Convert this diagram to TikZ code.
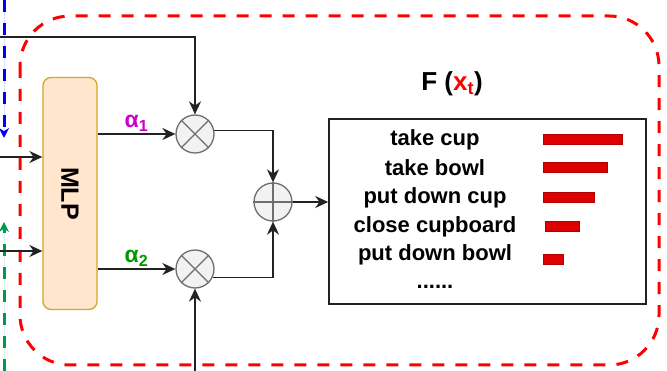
\documentclass[tikz,border=0pt]{standalone}
\usepackage{fontspec}
\setmainfont{Liberation Sans}
\usetikzlibrary{arrows.meta,positioning,calc}
\definecolor{ink}{HTML}{222222}
\definecolor{mlpfill}{HTML}{FFE6CC}
\definecolor{mlpdraw}{HTML}{D7A52B}
\definecolor{opfill}{HTML}{F2F2F2}
\definecolor{opdraw}{HTML}{6E6E6E}
\definecolor{cmag}{HTML}{CC00CC}
\definecolor{cgreen}{HTML}{009900}
\definecolor{cred}{HTML}{FF0000}
\definecolor{cbar}{HTML}{DD0000}
\definecolor{cblue}{HTML}{0000FF}
\definecolor{cteal}{HTML}{00994D}
\tikzset{
  mlpbox/.style={rounded corners=8pt, draw=mlpdraw, line width=1.3pt, fill=mlpfill, minimum width=54pt, minimum height=232pt, inner sep=0pt, font=\fontsize{25}{29}\selectfont\bfseries},
  opnode/.style={circle, draw=opdraw, line width=1.3pt, fill=opfill, minimum size=38pt, inner sep=0pt},
  opline/.style={draw=opdraw, line width=1.2pt},
  flow/.style={-{Stealth[length=13pt,width=12pt]}, line width=1.6pt, draw=ink},
  outbox/.style={draw=ink, line width=1.6pt, minimum width=317pt, minimum height=185pt, inner sep=0pt},
  item/.style={font=\fontsize{22}{26}\selectfont\bfseries, inner sep=0pt},
  bar/.style={fill=cbar, draw=cbar!80!black, line width=0.6pt},
  frame/.style={draw=cred, line width=3pt, dash pattern=on 12pt off 11pt, rounded corners=50pt},
  sideflow/.style={-{Stealth[length=10pt,width=10pt]}, line width=3pt, dash pattern=on 12pt off 11pt},
  coef/.style={font=\fontsize{23}{27}\selectfont\bfseries, inner sep=2pt},
}
\begin{document}
\begin{tikzpicture}[x=1pt, y=-1pt]
  \clip (0,0) rectangle (667,371);
  % outer group
  \draw[frame] (20,16) rectangle (659,365);
  % nodes
  \node[mlpbox] (mlp) at (70,193.5) {\rotatebox{-90}{MLP}};
  \node[opnode] (ot1) at (195,134) {};
  \node[opnode] (ot2) at (195,269) {};
  \node[opnode] (plus) at (273,202) {};
  \foreach \o in {ot1,ot2}{
    \draw[opline] (\o.north west) -- (\o.south east) (\o.north east) -- (\o.south west);
  }
  \draw[opline] (plus.north) -- (plus.south) (plus.west) -- (plus.east);
  \node[outbox] (out) at (487.5,211.5) {};
  \node[font=\fontsize{26}{30}\selectfont\bfseries] (title) at (452,84) {F (\textcolor{cred}{x\textsubscript{t}})};
  \foreach \n/\txt/\y in {1/take cup/140,2/take bowl/168,3/put down cup/198,4/close cupboard/227,5/put down bowl/255}{
    \node[item] (i\n) at (435,\y) {\txt};
  }
  \node[item] (i6) at (435,287) {{......}};
  % score bars
  \foreach \xa/\xb/\y in {543/622/139,543/607/167,543/594/197,545/579/226,543/563/259}{
    \draw[bar] (\xa,\y-5) rectangle (\xb,\y+5);
  }
  % incoming lines
  \coordinate (topin) at (0,37);
  \coordinate (botin) at (195,371);
  \coordinate (in1) at (0,157);
  \coordinate (in2) at (0,251);
  \coordinate (bluetop) at (4,0);
  \coordinate (blueend) at (4,138);
  \coordinate (greenbot) at (4,371);
  \coordinate (greenend) at (4,222);
  \draw[sideflow, draw=cblue, fill=cblue] (bluetop) -- (blueend);
  \draw[sideflow, draw=cteal, fill=cteal] (greenbot) -- (greenend);
  \draw[flow] (topin) -| (ot1);
  \draw[flow] (botin) -- (ot2);
  \draw[flow] (in1) -- (in1 -| mlp.west);
  \draw[flow] (in2) -- (in2 -| mlp.west);
  \draw[flow] (mlp.east |- ot1) -- (ot1) node[coef, midway, above, text=cmag] (a1) {α\textsubscript{1}};
  \draw[flow] (mlp.east |- ot2) -- (ot2) node[coef, midway, above, text=cgreen] (a2) {α\textsubscript{2}};
  \draw[flow] (ot1.10) -| (plus);
  \draw[flow] (ot2.-25) -| (plus);
  \draw[flow] (plus.east) -- (plus.east -| out.west);
\end{tikzpicture}
\end{document}
